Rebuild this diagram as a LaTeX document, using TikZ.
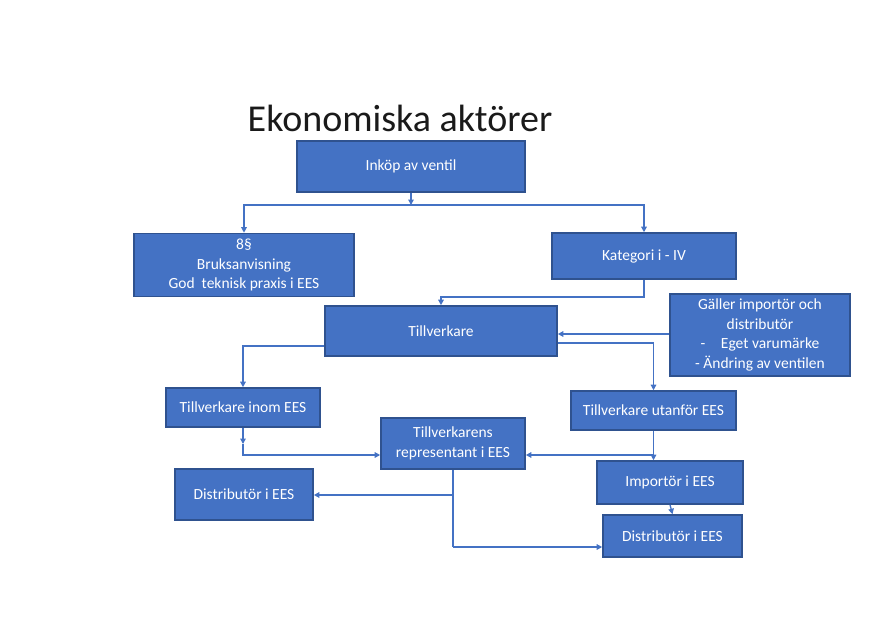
\documentclass[tikz,border=0pt]{standalone}
\usepackage{fontspec}
\setmainfont{Carlito}
\usepackage{tikz}
\usetikzlibrary{arrows.meta,positioning,calc}
\definecolor{boxfill} {HTML}{4472C4}
\definecolor{boxline} {HTML}{2F528F}
\definecolor{wire}    {HTML}{4472C4}
\definecolor{titleink}{HTML}{1A1A1A}

\begin{document}
\begin{tikzpicture}[x=1pt,y=-1pt,
    actor/.style={draw=boxline,fill=boxfill,line width=1.6pt,text=white,
                  align=center,inner sep=3pt,
                  font=\fontsize{15.5}{19.5}\selectfont},
    wireline/.style={draw=wire,line width=1.3pt},
    wirearrow/.style={wireline,-{Triangle[length=5.5pt,width=5.5pt]}}]
      \useasboundingbox (0,0) rectangle (870,630);
      \fill[white] (0,0) rectangle (870,630);

      \node[text=titleink,font=\fontsize{38}{44}\selectfont] (title) at (400,118) {Ekonomiska aktörer};

      \node[actor,minimum width=228pt,minimum height=51pt] (inkop) at (411,166.5) {Inköp av ventil};
      \node[actor,minimum width=220pt,minimum height=63pt] (par8) at (244,265)
        {8§\\ Bruksanvisning\\ God\ \ teknisk praxis i EES};
      \node[actor,minimum width=184pt,minimum height=46pt] (kat) at (644,256) {Kategori i - IV};
      \node[actor,minimum width=180pt,minimum height=82pt] (galler) at (760,335)
        {Gäller importör och\\ distributör\\ -\quad Eget varumärke\\ - Ändring av ventilen};
      \node[actor,minimum width=232pt,minimum height=50pt] (tillv) at (441,331) {Tillverkare};
      \node[actor,minimum width=154pt,minimum height=39pt] (inom) at (243,407.5) {Tillverkare inom EES};
      \node[actor,minimum width=165pt,minimum height=39pt] (utanfor) at (653.5,410.5) {Tillverkare utanför EES};
      \node[actor,minimum width=144pt,minimum height=51pt] (repr) at (453,443.5)
        {Tillverkarens\\ representant i EES};
      \node[actor,minimum width=138pt,minimum height=51pt] (distL) at (244,494.5) {Distributör i EES};
      \node[actor,minimum width=146pt,minimum height=43pt] (imp) at (670,482.5) {Importör i EES};
      \node[actor,minimum width=139pt,minimum height=42pt] (distR) at (672.5,536) {Distributör i EES};

      % junctions
      \coordinate (j1) at (411,205);
      \coordinate (j2) at (644,297);
      \coordinate (j3a) at (243,444);
      \coordinate (j3) at (243,455);
      \coordinate (j4) at (653.5,455);
      \coordinate (j5) at (453,495);
      \coordinate (j6) at (453,547);

      % connectors
      \draw[wirearrow] (inkop.south) -- (j1);
      \draw[wirearrow] (j1) -| (par8.north);
      \draw[wirearrow] (j1) -| (kat.north);
      \draw[wirearrow] (kat.south) -- (j2) -| (tillv.north);
      \draw[wirearrow] (galler.west |- 0,334) -- (tillv.east |- 0,334);
      \draw[wirearrow] ([yshift=-12pt]tillv.east) -| (utanfor.north);
      \draw[wirearrow] ([yshift=-15pt]tillv.west) -| (inom.north);
      \draw[wirearrow] (inom.south) -- (j3a);
      \draw[wirearrow] (j3a) -- (j3) -- (repr.west |- j3);
      \draw[wirearrow] (utanfor.south) -- (utanfor.south |- imp.north);
      \draw[wirearrow] (j4) -- (repr.east |- j4);
      \draw[wirearrow] (imp.south) -- (distR.north);
      \draw[wireline] (repr.south) -- (j6);
      \draw[wirearrow] (j5) -- (distL.east |- j5);
      \draw[wirearrow] (j6) -- (distR.west |- j6);
    \end{tikzpicture}
\end{document}
